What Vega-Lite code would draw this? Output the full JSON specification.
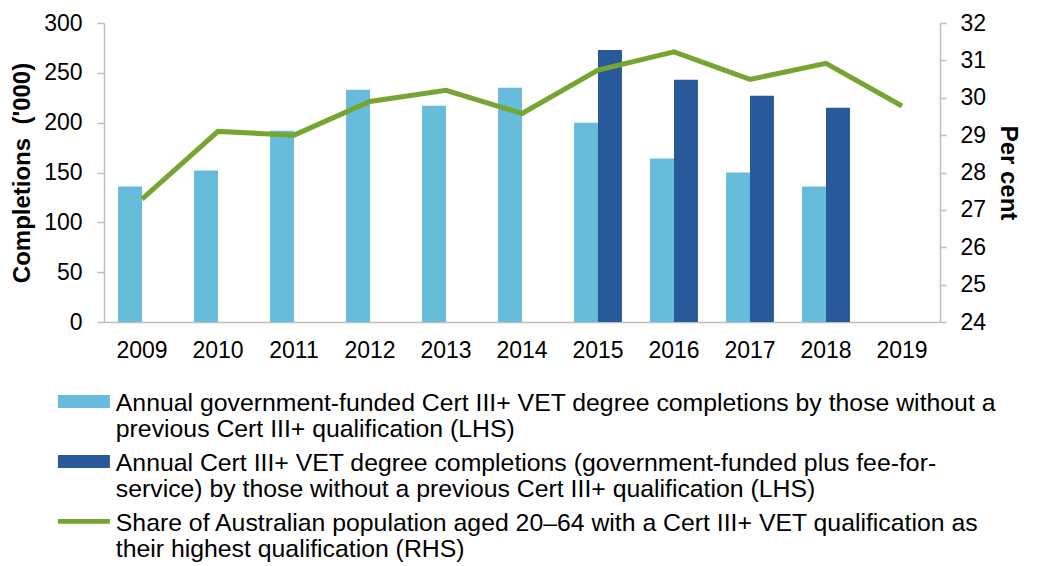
{
  "$schema": "https://vega.github.io/schema/vega-lite/v6.json",
  "autosize": {"type": "none"},
  "padding": {"left": 104, "top": 23, "right": 97, "bottom": 244},
  "width": 836,
  "height": 299,
  "config": {
    "view": {"stroke": null},
    "font": "Liberation Sans",
    "axis": {"grid": false, "domainColor": "#BFBFBF", "tickColor": "#BFBFBF", "domainWidth": 1.5, "tickWidth": 1.5, "labelColor": "#000000", "titleColor": "#000000", "labelFont": "Liberation Sans", "titleFont": "Liberation Sans", "labelFontSize": 23, "titleFontSize": 24, "titleFontWeight": "bold"}
  },
  "datasets": {
    "bars": [
      {"year": "2009", "series": "Annual government-funded Cert III+ VET degree completions by those without a previous Cert III+ qualification (LHS)", "value": 136},
      {"year": "2010", "series": "Annual government-funded Cert III+ VET degree completions by those without a previous Cert III+ qualification (LHS)", "value": 152},
      {"year": "2011", "series": "Annual government-funded Cert III+ VET degree completions by those without a previous Cert III+ qualification (LHS)", "value": 192},
      {"year": "2012", "series": "Annual government-funded Cert III+ VET degree completions by those without a previous Cert III+ qualification (LHS)", "value": 233},
      {"year": "2013", "series": "Annual government-funded Cert III+ VET degree completions by those without a previous Cert III+ qualification (LHS)", "value": 217},
      {"year": "2014", "series": "Annual government-funded Cert III+ VET degree completions by those without a previous Cert III+ qualification (LHS)", "value": 235},
      {"year": "2015", "series": "Annual government-funded Cert III+ VET degree completions by those without a previous Cert III+ qualification (LHS)", "value": 200},
      {"year": "2016", "series": "Annual government-funded Cert III+ VET degree completions by those without a previous Cert III+ qualification (LHS)", "value": 164},
      {"year": "2017", "series": "Annual government-funded Cert III+ VET degree completions by those without a previous Cert III+ qualification (LHS)", "value": 150},
      {"year": "2018", "series": "Annual government-funded Cert III+ VET degree completions by those without a previous Cert III+ qualification (LHS)", "value": 136},
      {"year": "2015", "series": "Annual Cert III+ VET degree completions (government-funded plus fee-for-service) by those without a previous Cert III+ qualification (LHS)", "value": 273},
      {"year": "2016", "series": "Annual Cert III+ VET degree completions (government-funded plus fee-for-service) by those without a previous Cert III+ qualification (LHS)", "value": 243},
      {"year": "2017", "series": "Annual Cert III+ VET degree completions (government-funded plus fee-for-service) by those without a previous Cert III+ qualification (LHS)", "value": 227},
      {"year": "2018", "series": "Annual Cert III+ VET degree completions (government-funded plus fee-for-service) by those without a previous Cert III+ qualification (LHS)", "value": 215}
    ],
    "line": [
      {"year": "2009", "share": 27.29},
      {"year": "2010", "share": 29.1},
      {"year": "2011", "share": 29.0},
      {"year": "2012", "share": 29.9},
      {"year": "2013", "share": 30.2},
      {"year": "2014", "share": 29.58},
      {"year": "2015", "share": 30.74},
      {"year": "2016", "share": 31.23},
      {"year": "2017", "share": 30.49},
      {"year": "2018", "share": 30.92},
      {"year": "2019", "share": 29.78}
    ]
  },
  "layer": [
    {
      "data": {"name": "bars"},
      "mark": {"type": "bar"},
      "encoding": {
        "x": {"field": "year", "type": "nominal", "scale": {"domain": ["2009","2010","2011","2012","2013","2014","2015","2016","2017","2018","2019"], "paddingInner": 0.37, "paddingOuter": 0.185},
          "axis": {"title": null, "labelAngle": 0, "tickSize": 0, "labelPadding": 17}},
        "xOffset": {"field": "series", "type": "nominal", "scale": {"domain": ["Annual government-funded Cert III+ VET degree completions by those without a previous Cert III+ qualification (LHS)", "Annual Cert III+ VET degree completions (government-funded plus fee-for-service) by those without a previous Cert III+ qualification (LHS)"]}},
        "y": {"field": "value", "type": "quantitative", "scale": {"domain": [0, 300], "nice": false},
          "axis": {"title": "Completions\u00a0 ('000)", "values": [0,50,100,150,200,250,300], "tickSize": 7, "labelPadding": 15, "titlePadding": 9}},
        "color": {"field": "series", "type": "nominal",
          "scale": {"domain": [
            "Annual government-funded Cert III+ VET degree completions by those without a previous Cert III+ qualification (LHS)",
            "Annual Cert III+ VET degree completions (government-funded plus fee-for-service) by those without a previous Cert III+ qualification (LHS)",
            "Share of Australian population aged 20–64 with a Cert III+ VET qualification as their highest qualification (RHS)"],
            "range": ["#67BBDB", "#285A9B", "#77A531"]},
          "legend": {
            "orient": "none", "legendX": -32.5, "legendY": 366, "direction": "vertical", "title": null,
            "labelFont": "Liberation Sans", "labelFontSize": 24.8, "labelColor": "#000000", "labelLimit": 1200,
            "symbolSize": 169, "labelOffset": 19.5, "rowPadding": 6,
            "labelExpr": "indexof(datum.label, 'Annual government') == 0 ? ['Annual government-funded Cert III+ VET degree completions by those without a', 'previous Cert III+ qualification (LHS)'] : indexof(datum.label, 'Annual Cert') == 0 ? ['Annual Cert III+ VET degree completions (government-funded plus fee-for-', 'service) by those without a previous Cert III+ qualification (LHS)'] : ['Share of Australian population aged 20–64 with a Cert III+ VET qualification as', 'their highest qualification (RHS)']",
            "encode": {
              "symbols": {"update": {
                "shape": {"signal": "indexof(datum.value, 'Share') == 0 ? 'M-4,-0.38H4V0.38H-4Z' : 'M-4,-1H4V1H-4Z'"},
                "fill": {"signal": "scale('color', datum.value)"},
                "stroke": {"value": "transparent"},
                "strokeWidth": {"value": 0},
                "opacity": {"value": 1}
              }},
              "labels": {"update": {"lineHeight": {"value": 26}, "dy": {"value": 3}}}
            }
          }}
      }
    },
    {
      "data": {"name": "line"},
      "mark": {"type": "line", "strokeWidth": 5, "strokeJoin": "miter"},
      "encoding": {
        "x": {"field": "year", "type": "nominal"},
        "y": {"field": "share", "type": "quantitative", "scale": {"domain": [24, 32], "nice": false},
          "axis": {"orient": "right", "title": "Per cent", "values": [24,25,26,27,28,29,30,31,32], "tickSize": 6, "labelPadding": 14, "titlePadding": 10}},
        "color": {"datum": "Share of Australian population aged 20–64 with a Cert III+ VET qualification as their highest qualification (RHS)"}
      }
    }
  ],
  "resolve": {"scale": {"y": "independent"}}
}
